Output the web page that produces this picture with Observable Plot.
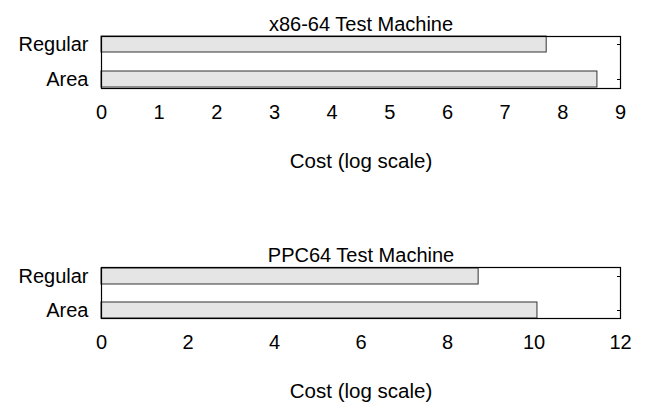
<!DOCTYPE html>
<html>
<head>
<meta charset="utf-8">
<script src="https://cdn.jsdelivr.net/npm/d3@7"></script>
<script src="https://cdn.jsdelivr.net/npm/@observablehq/plot@0.6"></script>
<style>
  html, body { margin: 0; padding: 0; background: white; }
  svg { display: block; }
</style>
</head>
<body>
<div id="chart"></div>
<script>
const categories = ["Regular", "Area"];
const x86Values = [7.72, 8.60];
const ppcValues = [8.72, 10.08];
const x86Ticks = [0, 1, 2, 3, 4, 5, 6, 7, 8, 9];
const ppcTicks = [0, 2, 4, 6, 8, 10, 12];
const titles = ["x86-64 Test Machine", "PPC64 Test Machine"];
const axisLabel = "Cost (log scale)";

function panel(title, values, ticks, mTop, mBottom) {
  const data = categories.map((c, i) => ({category: c, value: values[i]}));
  return Plot.plot({
    width: 648,
    height: 204,
    marginLeft: 101,
    marginRight: 28,
    marginTop: mTop,
    marginBottom: mBottom,
    style: {fontFamily: "'Liberation Sans', Arial, sans-serif", fontSize: "20px", color: "black", background: "white", overflow: "visible"},
    x: {domain: [ticks[0], ticks[ticks.length - 1]], label: null},
    y: {domain: categories, paddingInner: 0.53, paddingOuter: 0, label: null},
    marks: [
      Plot.barX(data, {x: "value", y: "category", fill: "#e5e5e5", stroke: "#333", strokeWidth: 1}),
      Plot.frame({stroke: "black", strokeWidth: 1.2}),
      Plot.axisX({ticks, tickSize: 0, tickPadding: 16, fontSize: 20, label: null}),
      Plot.axisY({tickSize: 0, tickPadding: 13, fontSize: 20, label: null}),
      Plot.axisY({anchor: "right", tickSize: -4, tickFormat: () => "", label: null}),
      Plot.text([axisLabel], {frameAnchor: "bottom", dy: 79, fontSize: 20.5}),
      Plot.text([title], {frameAnchor: "top", dy: -20, fontSize: 20})
    ]
  });
}

const el = document.getElementById("chart");
el.append(panel(titles[0], x86Values, x86Ticks, 36, 116));
el.append(panel(titles[1], ppcValues, ppcTicks, 63, 90));
</script>
</body>
</html>
